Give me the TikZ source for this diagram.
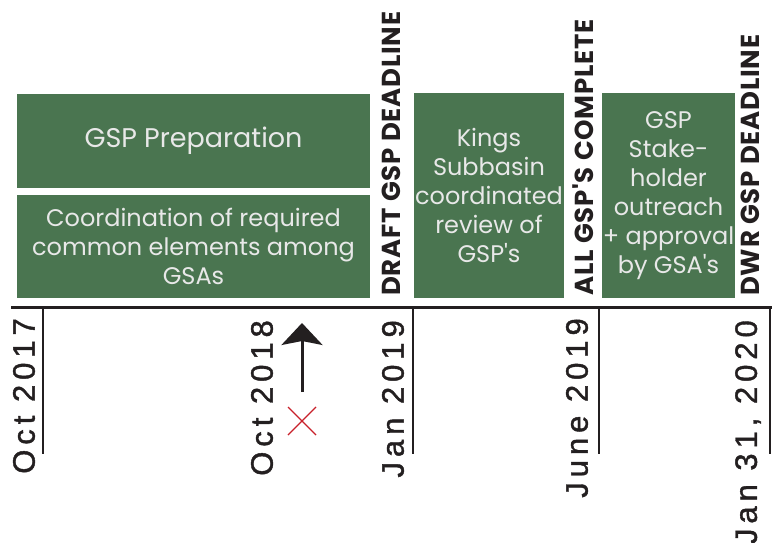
\documentclass[tikz,border=0pt]{standalone}
\usepackage{fontspec}
\usetikzlibrary{arrows.meta}
\newfontfamily\boxfont{Poppins}
\newfontfamily\labfont[LetterSpace=3]{Poppins}
\newfontfamily\datefont[LetterSpace=16,FakeBold=1.3]{Liberation Sans}
\definecolor{gsgreen}{RGB}{74,117,80}
\definecolor{gstext}{RGB}{232,232,232}
\definecolor{axis}{RGB}{35,31,32}
\definecolor{xred}{RGB}{200,32,42}
\tikzset{
  gbox/.style={fill=gsgreen, draw=none, inner sep=0pt, align=center, text=gstext,
    font=\boxfont\fontsize{24}{29}\selectfont},
  milestone/.style={rotate=90, anchor=west, inner sep=0pt, text=axis,
    font=\labfont\bfseries\fontsize{26}{26}\selectfont},
  datelab/.style={rotate=90, anchor=east, inner sep=0pt, text=axis,
    font=\datefont\fontsize{31}{31}\selectfont},
  axisline/.style={draw=axis, line width=2.6pt},
  tickline/.style={draw=axis, line width=2pt},
}
\begin{document}
\begin{tikzpicture}[x=1pt,y=-1pt]
\useasboundingbox (0,0) rectangle (772,543);
% boxes
\node[gbox, minimum width=353pt, minimum height=94pt, font=\boxfont\fontsize{27}{29}\selectfont] (prep) at (193.5,141) {GSP Preparation};
\node[gbox, minimum width=353pt, minimum height=103pt] (coord) at (193.5,246.5) {Coordination of required\\common elements among\\GSAs};
\node[gbox, minimum width=150pt, minimum height=205pt] (kings) at (489,195.5) {Kings\\Subbasin\\coordinated\\review of\\GSP's};
\node[gbox, minimum width=133pt, minimum height=205pt] (outreach) at (668.5,195.5) {GSP\\Stake-\\holder\\outreach\\+ approval\\by GSA's};
% milestone labels
\node[milestone] (draft) at (391,296) {DRAFT GSP DEADLINE};
\node[milestone] (allgsp) at (583,296) {ALL GSP'S COMPLETE};
\node[milestone] (dwr) at (750,296) {DWR GSP DEADLINE};
% timeline
\coordinate (axL) at (11,307.5);
\coordinate (axR) at (772,307.5);
\draw[axisline] (axL) -- (axR);
\coordinate (t1a) at (43,307.5); \coordinate (t1b) at (43,454);
\coordinate (t2a) at (413,307.5); \coordinate (t2b) at (413,454);
\coordinate (t3a) at (599,307.5); \coordinate (t3b) at (599,454);
\coordinate (t4a) at (770,307.5); \coordinate (t4b) at (770,454);
\draw[tickline] (t1a) -- (t1b);
\draw[tickline] (t2a) -- (t2b);
\draw[tickline] (t3a) -- (t3b);
\draw[tickline] (t4a) -- (t4b);
% dates
\node[datelab] (d1) at (24,318) {Oct 2017};
\node[datelab] (d2) at (262,320) {Oct 2018};
\node[datelab] (d3) at (393,320) {Jan 2019};
\node[datelab] (d4) at (577,318) {June 2019};
\node[datelab] (d5) at (748,320) {Jan 31, 2020};
% arrow
\coordinate (arB) at (302,392);
\coordinate (arT) at (302,323);
\draw[draw=axis, line width=3pt, -{Stealth[length=22pt,width=41pt,inset=4pt]}] (arB) -- (arT);
% red cross
\coordinate (xc) at (302,421);
\draw[xred, line width=1.4pt] ([shift={(-14,-14)}]xc) -- ([shift={(14,14)}]xc);
\draw[xred, line width=1.4pt] ([shift={(-14,14)}]xc) -- ([shift={(14,-14)}]xc);
\end{tikzpicture}
\end{document}
